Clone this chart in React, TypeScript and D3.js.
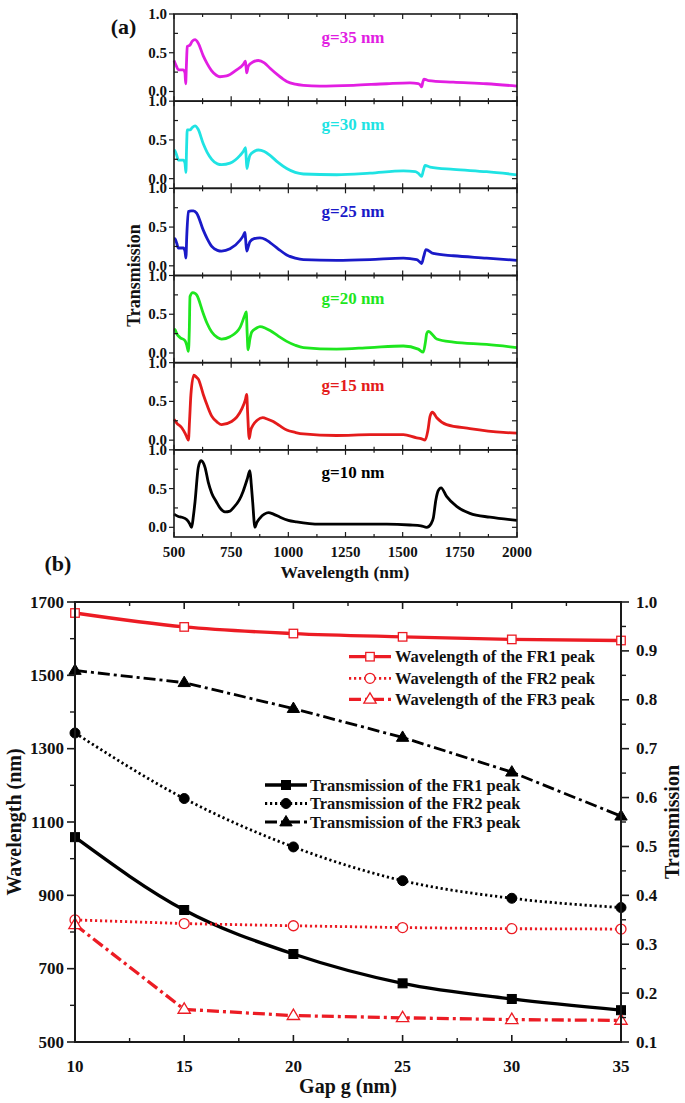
import React from 'react';
import * as d3 from 'd3';

// ---------- Panel (a) data: transmission spectra [wavelength nm, T] ----------
const gapLabels = ['g=35 nm', 'g=30 nm', 'g=25 nm', 'g=20 nm', 'g=15 nm', 'g=10 nm'];
const spectrumColors = ['#e21ee2', '#1fe3e3', '#1a1ac8', '#1ee61e', '#e41b1b', '#000000'];

const spec35: [number, number][] = [
  [500, 0.40], [510, 0.33], [519, 0.28], [540, 0.28], [548, 0.24], [551, 0.10], [554, 0.32], [558, 0.58],
  [570, 0.60], [580, 0.65], [592, 0.67], [605, 0.63], [628, 0.46], [645, 0.36], [664, 0.27], [685, 0.21],
  [701, 0.19], [730, 0.20], [774, 0.28], [803, 0.35], [812, 0.39], [815, 0.32], [818, 0.24], [825, 0.33],
  [845, 0.38], [869, 0.40], [895, 0.37], [920, 0.30], [955, 0.21], [993, 0.13], [1030, 0.095], [1066, 0.08],
  [1138, 0.07], [1284, 0.08], [1430, 0.10], [1532, 0.11], [1568, 0.10], [1578, 0.08], [1583, 0.06],
  [1588, 0.12], [1593, 0.16], [1612, 0.14], [1721, 0.12], [1867, 0.10], [2000, 0.07],
];
const spec30: [number, number][] = [
  [500, 0.37], [504, 0.36], [512, 0.30], [519, 0.24], [541, 0.24], [548, 0.20], [552, 0.08], [555, 0.40],
  [558, 0.63], [570, 0.63], [580, 0.66], [592, 0.68], [605, 0.64], [628, 0.45], [645, 0.34], [665, 0.25],
  [690, 0.19], [708, 0.18], [745, 0.20], [789, 0.30], [805, 0.36], [813, 0.40], [816, 0.25], [819, 0.13],
  [825, 0.22], [832, 0.30], [850, 0.35], [869, 0.37], [895, 0.35], [920, 0.30], [955, 0.21], [993, 0.13],
  [1030, 0.08], [1066, 0.06], [1211, 0.05], [1357, 0.07], [1503, 0.10], [1555, 0.09], [1568, 0.07],
  [1583, 0.03], [1590, 0.10], [1598, 0.17], [1620, 0.15], [1722, 0.12], [1867, 0.09], [2000, 0.05],
];
const spec25: [number, number][] = [
  [500, 0.35], [504, 0.35], [512, 0.29], [519, 0.23], [541, 0.23], [548, 0.19], [552, 0.10], [556, 0.40],
  [563, 0.70], [575, 0.71], [585, 0.71], [599, 0.68], [628, 0.46], [645, 0.35], [665, 0.25], [690, 0.20],
  [708, 0.19], [745, 0.22], [789, 0.33], [803, 0.39], [810, 0.43], [813, 0.35], [818, 0.19], [825, 0.25],
  [832, 0.31], [850, 0.35], [876, 0.36], [900, 0.34], [920, 0.30], [955, 0.22], [993, 0.14], [1030, 0.10],
  [1066, 0.08], [1211, 0.07], [1357, 0.08], [1503, 0.10], [1561, 0.08], [1575, 0.05], [1583, 0.03],
  [1592, 0.12], [1602, 0.21], [1634, 0.16], [1722, 0.13], [1867, 0.10], [2000, 0.07],
];
const spec20: [number, number][] = [
  [500, 0.31], [505, 0.30], [512, 0.25], [526, 0.20], [548, 0.16], [556, 0.10], [563, 0.02], [567, 0.30],
  [570, 0.73], [582, 0.78], [592, 0.77], [599, 0.75], [628, 0.51], [645, 0.38], [665, 0.27], [690, 0.20],
  [708, 0.18], [745, 0.21], [789, 0.33], [810, 0.49], [816, 0.53], [820, 0.25], [824, 0.04], [832, 0.18],
  [840, 0.27], [860, 0.32], [876, 0.34], [900, 0.32], [920, 0.29], [955, 0.22], [993, 0.15], [1030, 0.10],
  [1066, 0.07], [1211, 0.05], [1357, 0.07], [1503, 0.09], [1568, 0.05], [1590, 0.01], [1600, 0.15],
  [1605, 0.25], [1612, 0.28], [1649, 0.18], [1722, 0.14], [1867, 0.11], [2000, 0.07],
];
const spec15: [number, number][] = [
  [500, 0.27], [512, 0.22], [534, 0.16], [548, 0.09], [556, 0.04], [563, 0.00], [568, 0.25], [574, 0.59],
  [587, 0.84], [599, 0.81], [606, 0.79], [628, 0.59], [645, 0.45], [665, 0.31], [690, 0.23], [708, 0.20],
  [752, 0.24], [796, 0.40], [812, 0.52], [818, 0.59], [822, 0.35], [829, 0.02], [835, 0.12], [847, 0.20],
  [865, 0.26], [888, 0.29], [910, 0.27], [934, 0.24], [960, 0.19], [993, 0.13], [1030, 0.10], [1066, 0.08],
  [1211, 0.06], [1357, 0.07], [1503, 0.07], [1561, 0.03], [1580, 0.02], [1598, 0.00], [1610, 0.12],
  [1620, 0.31], [1630, 0.36], [1649, 0.29], [1692, 0.20], [1794, 0.15], [1940, 0.10], [2000, 0.09],
];
const spec10: [number, number][] = [
  [500, 0.17], [519, 0.14], [534, 0.13], [555, 0.10], [568, 0.05], [577, 0.00], [585, 0.15], [592, 0.33],
  [606, 0.77], [618, 0.86], [630, 0.82], [636, 0.77], [650, 0.58], [665, 0.44], [685, 0.33], [701, 0.25],
  [723, 0.20], [745, 0.21], [759, 0.25], [785, 0.35], [803, 0.47], [820, 0.62], [832, 0.73], [838, 0.55],
  [844, 0.33], [854, 0.00], [862, 0.06], [876, 0.12], [895, 0.17], [913, 0.19], [935, 0.17], [964, 0.13],
  [1000, 0.09], [1036, 0.07], [1138, 0.04], [1284, 0.04], [1430, 0.04], [1532, 0.03], [1580, 0.02],
  [1605, 0.00], [1625, 0.05], [1634, 0.12], [1645, 0.35], [1655, 0.47], [1668, 0.51], [1692, 0.40],
  [1736, 0.27], [1794, 0.18], [1882, 0.13], [2000, 0.09],
];
const spectra = [spec35, spec30, spec25, spec20, spec15, spec10];

const aXTicks = [500, 750, 1000, 1250, 1500, 1750, 2000];
const aXMinor = [625, 875, 1125, 1375, 1625, 1875];
const aYTicks = [0, 0.5, 1.0];
const aYMinor = [0.25, 0.75];

// ---------- Panel (b) data ----------
const gaps = [10, 15, 20, 25, 30, 35];
const wlFR1 = [1670, 1632, 1614, 1605, 1598, 1595];
const wlFR2 = [833, 823, 817, 812, 809, 808];
const wlFR3 = [820, 589, 572, 566, 561, 559];
const tFR1 = [0.519, 0.37, 0.28, 0.22, 0.188, 0.165];
const tFR2 = [0.732, 0.598, 0.499, 0.43, 0.394, 0.375];
const tFR3 = [0.86, 0.835, 0.782, 0.723, 0.652, 0.562];

const bXTicks = [10, 15, 20, 25, 30, 35];
const bXMinor = [12.5, 17.5, 22.5, 27.5, 32.5];
const bYLTicks = [500, 700, 900, 1100, 1300, 1500, 1700];
const bYLMinor = [600, 800, 1000, 1200, 1400, 1600];
const bYRTicks = [0.1, 0.2, 0.3, 0.4, 0.5, 0.6, 0.7, 0.8, 0.9, 1.0];
const bYRMinor = [0.15, 0.25, 0.35, 0.45, 0.55, 0.65, 0.75, 0.85, 0.95];

const legendWl = ['Wavelength of the FR1 peak', 'Wavelength of the FR2 peak', 'Wavelength of the FR3 peak'];
const legendT = ['Transmission of the FR1 peak', 'Transmission of the FR2 peak', 'Transmission of the FR3 peak'];

const FONT = '"Liberation Serif", "Times New Roman", Times, serif';
const RED = '#ec1c24';
const AX = '#1a1a1a';

type Shape = 'square' | 'circle' | 'triangle';

function Marker({ cx, cy, shape, filled, color }: { cx: number; cy: number; shape: Shape; filled: boolean; color: string }) {
  const fill = filled ? color : '#fff';
  const sw = filled ? 1 : 1.3;
  if (shape === 'square') {
    const s = filled ? 9 : 8.5;
    return <rect x={cx - s / 2} y={cy - s / 2} width={s} height={s} fill={fill} stroke={color} strokeWidth={sw} />;
  }
  if (shape === 'circle') {
    return <circle cx={cx} cy={cy} r={5} fill={fill} stroke={color} strokeWidth={sw} />;
  }
  const r = 6.5;
  const pts = [
    [cx, cy - r],
    [cx + r * 0.95, cy + r * 0.6],
    [cx - r * 0.95, cy + r * 0.6],
  ];
  return <polygon points={pts.map((p) => p.join(',')).join(' ')} fill={fill} stroke={color} strokeWidth={sw} />;
}

const DOT = '2.2,2.8';
const DASHDOT = '12,4,3,4';

export default function App() {
  // ---------- Panel (a) ----------
  const A = { left: 174, right: 517, top: 14, bottom: 537 };
  const subH = (A.bottom - A.top) / 6;
  const xa = d3.scaleLinear().domain([500, 2000]).range([A.left, A.right]);
  const yaFor = (i: number) =>
    d3.scaleLinear().domain([-0.125, 1.0]).range([A.top + (i + 1) * subH, A.top + i * subH]);

  const panelA = spectra.map((spec, i) => {
    const ya = yaFor(i);
    const line = d3
      .line<[number, number]>()
      .x((d) => xa(d[0]))
      .y((d) => ya(d[1]))
      .curve(d3.curveMonotoneX);
    const top = A.top + i * subH;
    const bot = A.top + (i + 1) * subH;
    return (
      <g key={i}>
        <path d={line(spec) || ''} fill="none" stroke={spectrumColors[i]} strokeWidth={2.8} strokeLinejoin="round" />
        {aXTicks.map((t) => (
          <g key={'xt' + t}>
            <line x1={xa(t)} x2={xa(t)} y1={top} y2={top + 5} stroke={AX} strokeWidth={1.2} />
            <line x1={xa(t)} x2={xa(t)} y1={bot} y2={bot - 5} stroke={AX} strokeWidth={1.2} />
          </g>
        ))}
        {aXMinor.map((t) => (
          <g key={'xm' + t}>
            <line x1={xa(t)} x2={xa(t)} y1={top} y2={top + 3} stroke={AX} strokeWidth={1.2} />
            <line x1={xa(t)} x2={xa(t)} y1={bot} y2={bot - 3} stroke={AX} strokeWidth={1.2} />
          </g>
        ))}
        {aYTicks.map((t) => (
          <g key={'yt' + t}>
            <line x1={A.left - 5} x2={A.left} y1={ya(t)} y2={ya(t)} stroke={AX} strokeWidth={1.2} />
            <line x1={A.right} x2={A.right - 5} y1={ya(t)} y2={ya(t)} stroke={AX} strokeWidth={1.2} />
            <text
              x={A.left - 7}
              y={ya(t)}
              textAnchor="end"
              dominantBaseline="central"
              fontFamily={FONT}
              fontWeight="bold"
              fontSize={15}
              fill="#111"
            >
              {t.toFixed(1)}
            </text>
          </g>
        ))}
        {aYMinor.map((t) => (
          <g key={'ym' + t}>
            <line x1={A.left} x2={A.left + 4} y1={ya(t)} y2={ya(t)} stroke={AX} strokeWidth={1.2} />
            <line x1={A.right} x2={A.right - 5} y1={ya(t)} y2={ya(t)} stroke={AX} strokeWidth={1.2} />
          </g>
        ))}
        <text
          x={353}
          y={top + 23}
          textAnchor="middle"
          dominantBaseline="central"
          fontFamily={FONT}
          fontWeight="bold"
          fontSize={17}
          fill={spectrumColors[i]}
        >
          {gapLabels[i]}
        </text>
        <rect x={A.left} y={top} width={A.right - A.left} height={subH} fill="none" stroke={AX} strokeWidth={1.6} />
      </g>
    );
  });

  // ---------- Panel (b) ----------
  const B = { left: 75, right: 621, top: 602, bottom: 1042 };
  const xb = d3.scaleLinear().domain([10, 35]).range([B.left, B.right]);
  const yl = d3.scaleLinear().domain([500, 1700]).range([B.bottom, B.top]);
  const yr = d3.scaleLinear().domain([0.1, 1.0]).range([B.bottom, B.top]);

  const lineL = d3
    .line<number>()
    .x((_, i) => xb(gaps[i]))
    .y((d) => yl(d));
  const lineR = d3
    .line<number>()
    .x((_, i) => xb(gaps[i]))
    .y((d) => yr(d));
  const lineLC = d3
    .line<number>()
    .x((_, i) => xb(gaps[i]))
    .y((d) => yl(d))
    .curve(d3.curveMonotoneX);
  const lineRC = d3
    .line<number>()
    .x((_, i) => xb(gaps[i]))
    .y((d) => yr(d))
    .curve(d3.curveMonotoneX);

  const series = [
    { vals: tFR2, scale: yr, line: lineRC, color: '#000', dash: DOT, w: 2.8, shape: 'circle' as Shape, filled: true },
    { vals: tFR3, scale: yr, line: lineR, color: '#000', dash: DASHDOT, w: 2.8, shape: 'triangle' as Shape, filled: true },
    { vals: tFR1, scale: yr, line: lineRC, color: '#000', dash: undefined, w: 3.3, shape: 'square' as Shape, filled: true },
    { vals: wlFR1, scale: yl, line: lineLC, color: RED, dash: undefined, w: 3.3, shape: 'square' as Shape, filled: false },
    { vals: wlFR2, scale: yl, line: lineL, color: RED, dash: DOT, w: 2.8, shape: 'circle' as Shape, filled: false },
    { vals: wlFR3, scale: yl, line: lineL, color: RED, dash: DASHDOT, w: 3.3, shape: 'triangle' as Shape, filled: false },
  ];

  const legendA = [
    { label: legendWl[0], dash: undefined, shape: 'square' as Shape, w: 3.3 },
    { label: legendWl[1], dash: DOT, shape: 'circle' as Shape, w: 2.8 },
    { label: legendWl[2], dash: DASHDOT, shape: 'triangle' as Shape, w: 3.3 },
  ];
  const legendB = [
    { label: legendT[0], dash: undefined, shape: 'square' as Shape, w: 3.3 },
    { label: legendT[1], dash: DOT, shape: 'circle' as Shape, w: 2.8 },
    { label: legendT[2], dash: DASHDOT, shape: 'triangle' as Shape, w: 2.8 },
  ];
  const legARows = [656.7, 678.3, 699.3];
  const legBRows = [785, 803.5, 822];

  const textProps = { fontFamily: FONT, fontWeight: 'bold' as const, fill: '#111' };

  return (
    <svg width={685} height={1103} style={{ position: 'absolute', left: 0, top: 0, background: '#fff' }}>
      <rect x={0} y={0} width={685} height={1103} fill="#fff" />
      <text x={123.5} y={26} textAnchor="middle" dominantBaseline="central" fontSize={22} {...textProps}>
        (a)
      </text>
      {panelA}
      {aXTicks.map((t) => (
        <text
          key={'axl' + t}
          x={xa(t)}
          y={552}
          textAnchor="middle"
          dominantBaseline="central"
          fontSize={15}
          {...textProps}
        >
          {t}
        </text>
      ))}
      <text x={345} y={572} textAnchor="middle" dominantBaseline="central" fontSize={17.5} {...textProps}>
        Wavelength (nm)
      </text>
      <text
        transform={`translate(133.5, ${(A.top + A.bottom) / 2}) rotate(-90)`}
        textAnchor="middle"
        dominantBaseline="central"
        fontSize={18}
        {...textProps}
      >
        Transmission
      </text>

      <text x={58} y={563} textAnchor="middle" dominantBaseline="central" fontSize={22} {...textProps}>
        (b)
      </text>
      {series.map((s, k) => (
        <g key={'s' + k}>
          <path
            d={s.line(s.vals) || ''}
            fill="none"
            stroke={s.color}
            strokeWidth={s.w}
            strokeDasharray={s.dash}
            strokeLinejoin="round"
          />
          {s.vals.map((v, i) => (
            <Marker key={i} cx={xb(gaps[i])} cy={s.scale(v)} shape={s.shape} filled={s.filled} color={s.color} />
          ))}
        </g>
      ))}
      <rect x={B.left} y={B.top} width={B.right - B.left} height={B.bottom - B.top} fill="none" stroke={AX} strokeWidth={2} />
      {bXTicks.map((t) => (
        <g key={'bx' + t}>
          <line x1={xb(t)} x2={xb(t)} y1={B.bottom} y2={B.bottom - 7} stroke={AX} strokeWidth={1.6} />
          <line x1={xb(t)} x2={xb(t)} y1={B.top} y2={B.top + 7} stroke={AX} strokeWidth={1.6} />
          <text x={xb(t)} y={1066} textAnchor="middle" dominantBaseline="central" fontSize={17} {...textProps}>
            {t}
          </text>
        </g>
      ))}
      {bXMinor.map((t) => (
        <g key={'bxm' + t}>
          <line x1={xb(t)} x2={xb(t)} y1={B.bottom} y2={B.bottom - 4} stroke={AX} strokeWidth={1.4} />
          <line x1={xb(t)} x2={xb(t)} y1={B.top} y2={B.top + 4} stroke={AX} strokeWidth={1.4} />
        </g>
      ))}
      {bYLTicks.map((t) => (
        <g key={'byl' + t}>
          <line x1={B.left - 8} x2={B.left} y1={yl(t)} y2={yl(t)} stroke={AX} strokeWidth={1.6} />
          <text x={B.left - 11} y={yl(t)} textAnchor="end" dominantBaseline="central" fontSize={17} {...textProps}>
            {t}
          </text>
        </g>
      ))}
      {bYLMinor.map((t) => (
        <line key={'bylm' + t} x1={B.left - 5} x2={B.left} y1={yl(t)} y2={yl(t)} stroke={AX} strokeWidth={1.4} />
      ))}
      {bYRTicks.map((t) => (
        <g key={'byr' + t}>
          <line x1={B.right} x2={B.right + 8} y1={yr(t)} y2={yr(t)} stroke={AX} strokeWidth={1.6} />
          <text x={B.right + 15} y={yr(t)} textAnchor="start" dominantBaseline="central" fontSize={17} {...textProps}>
            {t.toFixed(1)}
          </text>
        </g>
      ))}
      {bYRMinor.map((t) => (
        <line key={'byrm' + t} x1={B.right} x2={B.right + 5} y1={yr(t)} y2={yr(t)} stroke={AX} strokeWidth={1.4} />
      ))}
      <text x={348} y={1086} textAnchor="middle" dominantBaseline="central" fontSize={20} {...textProps}>
        Gap g (nm)
      </text>
      <text
        transform={`translate(14, ${(B.top + B.bottom) / 2}) rotate(-90)`}
        textAnchor="middle"
        dominantBaseline="central"
        fontSize={20}
        {...textProps}
      >
        Wavelength (nm)
      </text>
      <text
        transform={`translate(672, ${(B.top + B.bottom) / 2}) rotate(-90)`}
        textAnchor="middle"
        dominantBaseline="central"
        fontSize={20}
        {...textProps}
      >
        Transmission
      </text>
      {legendA.map((l, i) => (
        <g key={'la' + i}>
          <line x1={349} x2={391} y1={legARows[i]} y2={legARows[i]} stroke={RED} strokeWidth={l.w} strokeDasharray={l.dash} />
          <Marker cx={370} cy={legARows[i]} shape={l.shape} filled={false} color={RED} />
          <text x={395} y={legARows[i]} dominantBaseline="central" fontSize={16.5} {...textProps}>
            {l.label}
          </text>
        </g>
      ))}
      {legendB.map((l, i) => (
        <g key={'lb' + i}>
          <line x1={265} x2={307} y1={legBRows[i]} y2={legBRows[i]} stroke="#000" strokeWidth={l.w} strokeDasharray={l.dash} />
          <Marker cx={286} cy={legBRows[i]} shape={l.shape} filled={true} color="#000" />
          <text x={310} y={legBRows[i]} dominantBaseline="central" fontSize={16.5} {...textProps}>
            {l.label}
          </text>
        </g>
      ))}
    </svg>
  );
}
